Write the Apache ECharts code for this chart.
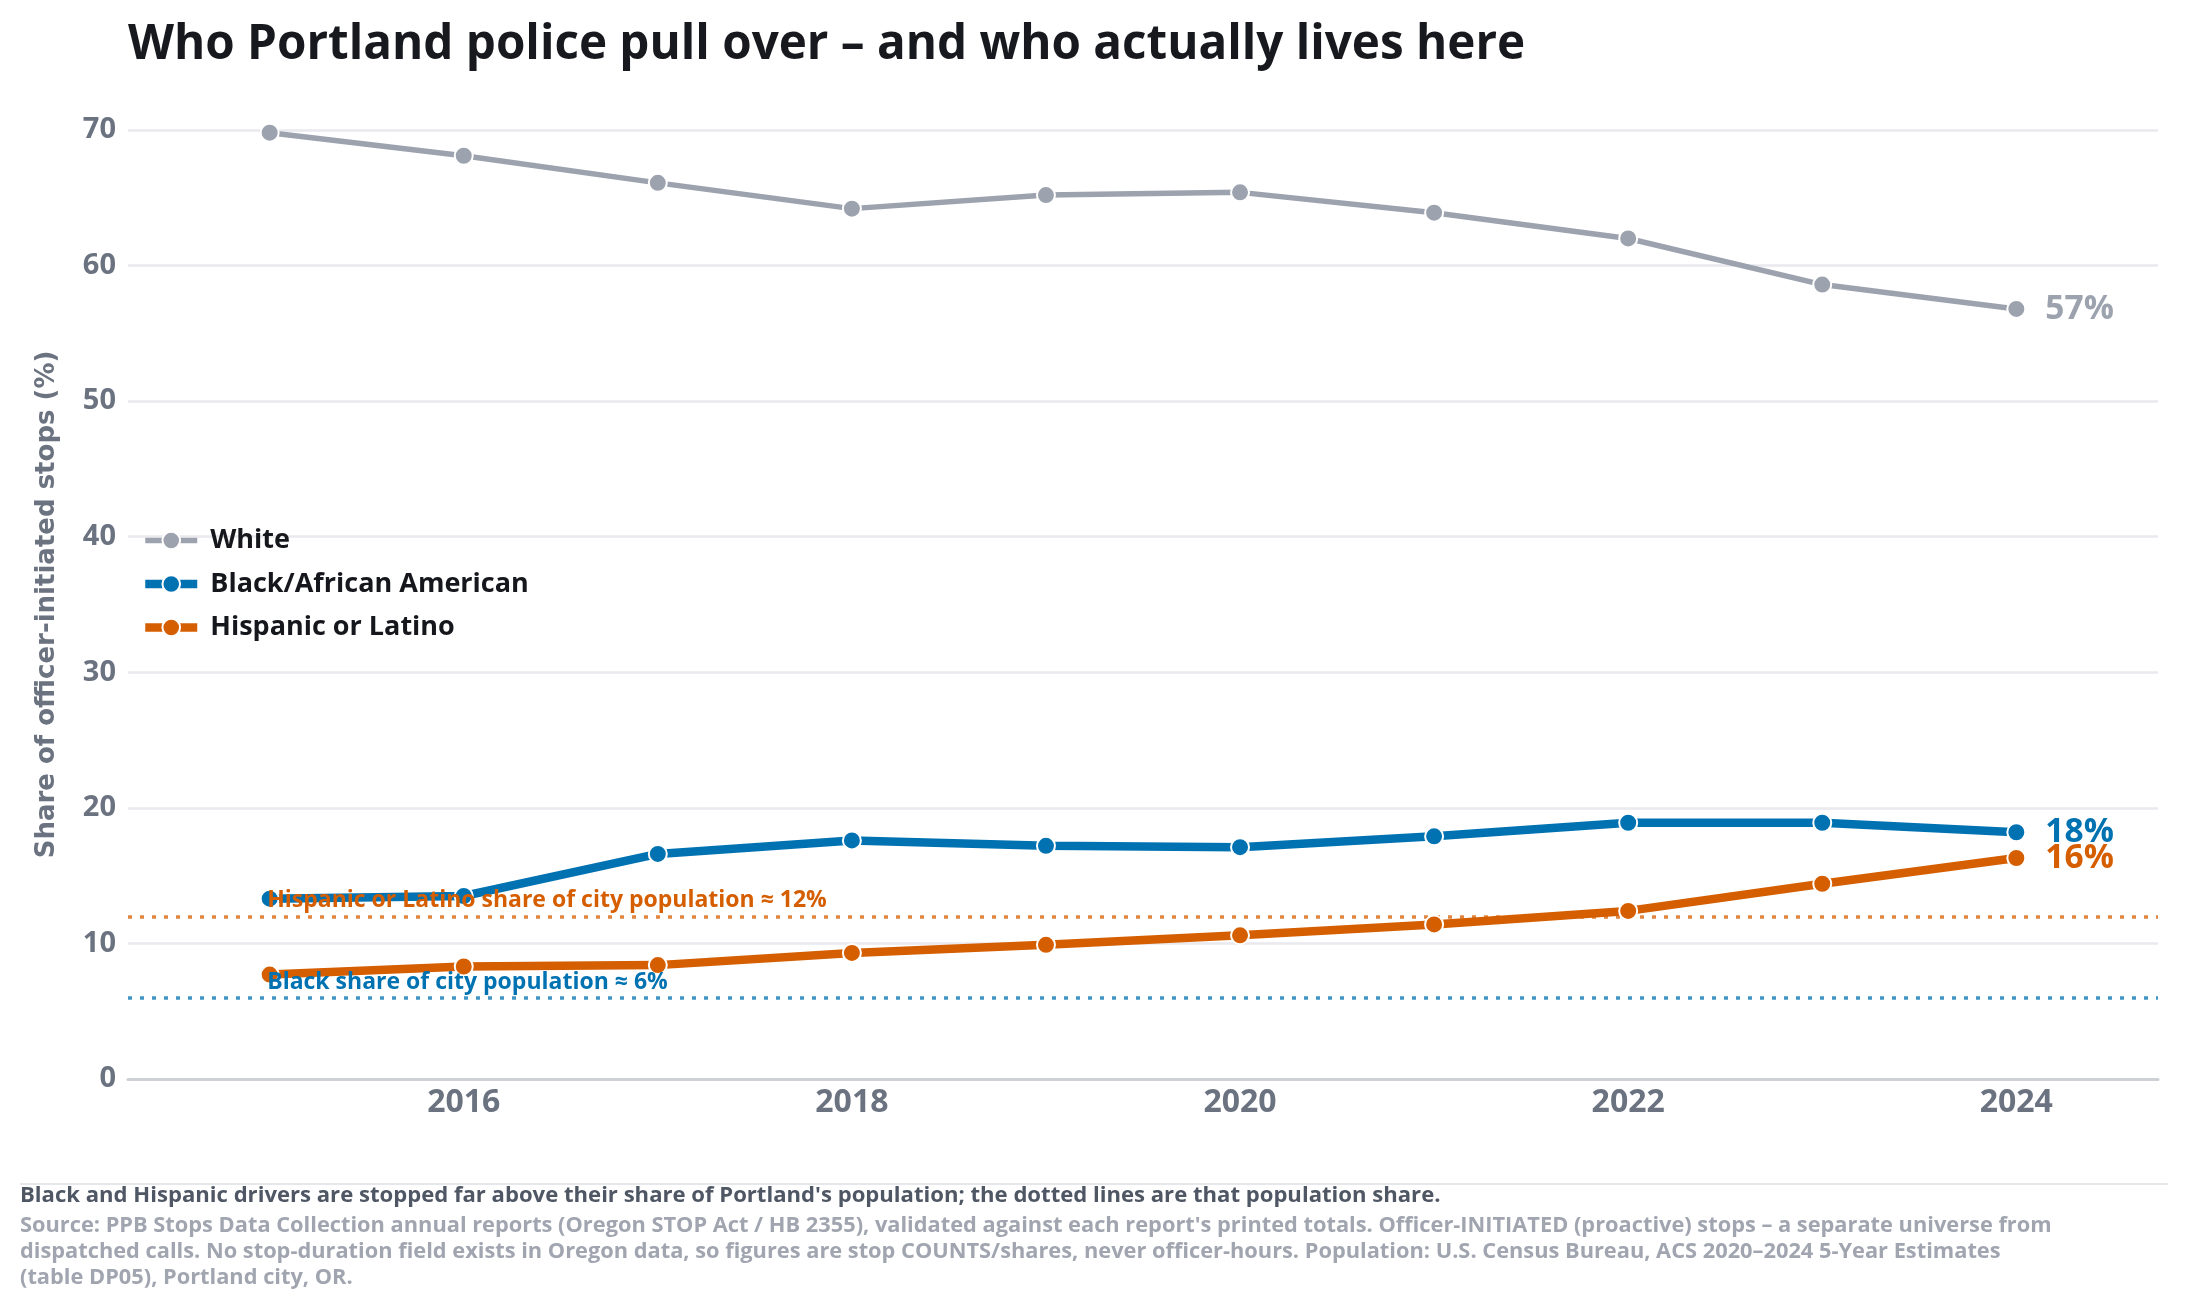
<!DOCTYPE html>
<html>
<head>
<meta charset="utf-8">
<script src="https://cdn.jsdelivr.net/npm/echarts@6/dist/echarts.min.js"></script>
<style>
  html, body { margin: 0; padding: 0; background: #ffffff; }
  #chart { width: 2187px; height: 1307px; }
</style>
</head>
<body>
<div id="chart"></div>
<script>
// ---- Data ----
const years = [2015, 2016, 2017, 2018, 2019, 2020, 2021, 2022, 2023, 2024];
const whiteShare = [69.8, 68.1, 66.1, 64.2, 65.2, 65.4, 63.9, 62.0, 58.6, 56.8];
const blackShare = [13.3, 13.5, 16.6, 17.6, 17.2, 17.1, 17.9, 18.9, 18.9, 18.2];
const hispanicShare = [7.7, 8.3, 8.4, 9.3, 9.9, 10.6, 11.4, 12.4, 14.4, 16.3];
const xTickYears = [2016, 2018, 2020, 2022, 2024];
const yTicks = [0, 10, 20, 30, 40, 50, 60, 70];
const blackPopShare = 6;
const hispanicPopShare = 12;

const seriesNames = ['White', 'Black/African American', 'Hispanic or Latino'];
const colors = { white: '#9ca2ae', black: '#0072b2', hispanic: '#d55e00' };

const FONT = '"Open Sans", Lato, sans-serif';

function zip(xs, ys) { return xs.map((x, i) => [x, ys[i]]); }

function lineSeries(name, values, color, width) {
  return {
    name: name,
    type: 'line',
    data: zip(years, values),
    symbol: 'circle',
    symbolSize: 18,
    showSymbol: true,
    lineStyle: { color: color, width: width },
    itemStyle: { color: color, borderColor: '#ffffff', borderWidth: 2 },
    emphasis: { disabled: true },
    endLabel: {
      show: true,
      formatter: p => Math.round(p.value[1]) + '%',
      color: color,
      fontFamily: FONT,
      fontWeight: 'bold',
      fontSize: 33.5,
      distance: 29
    },
    z: 3
  };
}

const chart = echarts.init(document.getElementById('chart'), null, { renderer: 'canvas' });

const hisp = lineSeries(seriesNames[2], hispanicShare, colors.hispanic, 8.5);
hisp.markLine = {
  silent: true,
  symbol: 'none',
  label: { show: false },
  emphasis: { disabled: true },
  data: [
    { yAxis: hispanicPopShare, lineStyle: { color: colors.hispanic, opacity: 0.75, type: [4, 8], width: 3.5 } },
    { yAxis: blackPopShare, lineStyle: { color: colors.black, opacity: 0.75, type: [4, 8], width: 3.5 } }
  ],
  z: 1
};
hisp.markPoint = {
  silent: true,
  symbol: 'circle',
  symbolSize: 1,
  itemStyle: { color: 'transparent' },
  z: 20,
  data: [
    {
      coord: [years[0], hispanicPopShare],
      label: {
        show: true, position: 'right', distance: 0, offset: [-3, -16],
        formatter: 'Hispanic or Latino share of city population ≈ ' + hispanicPopShare + '%',
        color: colors.hispanic, fontFamily: FONT, fontWeight: 'bold', fontSize: 23
      }
    },
    {
      coord: [years[0], blackPopShare],
      label: {
        show: true, position: 'right', distance: 0, offset: [-3, -15],
        formatter: 'Black share of city population ≈ ' + blackPopShare + '%',
        color: colors.black, fontFamily: FONT, fontWeight: 'bold', fontSize: 23
      }
    }
  ]
};

const option = {
  backgroundColor: '#ffffff',
  animation: false,
  textStyle: { fontFamily: FONT },
  title: [
    {
      text: 'Who Portland police pull over – and who actually lives here',
      left: 128, top: 21, padding: 0,
      textStyle: { fontFamily: FONT, fontWeight: 'bold', fontSize: 47.6, color: '#17191e' }
    },
    {
      text: "Black and Hispanic drivers are stopped far above their share of Portland's population; the dotted lines are that population share.",
      left: 20, top: 1185, padding: 0,
      textStyle: { fontFamily: FONT, fontWeight: 'bold', fontSize: 22.1, color: '#4f5765' }
    },
    {
      text: "Source: PPB Stops Data Collection annual reports (Oregon STOP Act / HB 2355), validated against each report's printed totals. Officer-INITIATED (proactive) stops – a separate universe from\n" +
            "dispatched calls. No stop-duration field exists in Oregon data, so figures are stop COUNTS/shares, never officer-hours. Population: U.S. Census Bureau, ACS 2020–2024 5-Year Estimates\n" +
            "(table DP05), Portland city, OR.",
      left: 20, top: 1213, padding: 0,
      textStyle: { fontFamily: FONT, fontWeight: 'bold', fontSize: 21.8, lineHeight: 26, color: '#a0a5b0' }
    }
  ],
  graphic: [
    {
      type: 'line', silent: true,
      shape: { x1: 20, y1: 1184, x2: 2168, y2: 1184 },
      style: { stroke: '#e6e7eb', lineWidth: 2 }
    }
  ],
  legend: {
    data: seriesNames,
    orient: 'vertical',
    left: 141, top: 527, padding: 0,
    itemWidth: 52, itemHeight: 22, itemGap: 16.5,
    lineStyle: { width: 'inherit' },
    textStyle: { fontFamily: FONT, fontWeight: 'bold', fontSize: 27, color: '#15171c', padding: [0, 0, 0, 8] },
    selectedMode: false
  },
  grid: { left: 128, right: 29, top: 130, bottom: 228, containLabel: false },
  xAxis: {
    type: 'value',
    min: 2014.27, max: 2024.73,
    splitLine: { show: false },
    axisTick: { show: false },
    axisLine: { show: true, lineStyle: { color: '#cdd1d6', width: 3 } },
    axisLabel: {
      customValues: xTickYears,
      formatter: v => String(v),
      color: '#6b7280', fontFamily: FONT, fontWeight: 'bold', fontSize: 32, margin: 8
    }
  },
  yAxis: {
    type: 'value',
    min: 0, max: 70, interval: 10,
    name: 'Share of officer-initiated stops (%)',
    nameLocation: 'middle',
    nameGap: 68,
    nameTextStyle: { fontFamily: '"DejaVu Sans", sans-serif', fontWeight: 'bold', fontSize: 26, color: '#6b7280' },
    axisLine: { show: false },
    axisTick: { show: false },
    splitLine: { show: true, lineStyle: { color: '#e9e9ee', width: 2.5 } },
    axisLabel: {
      customValues: yTicks,
      color: '#6b7280', fontFamily: FONT, fontWeight: 'bold', fontSize: 29, margin: 12
    }
  },
  series: [
    lineSeries(seriesNames[0], whiteShare, colors.white, 5.5),
    lineSeries(seriesNames[1], blackShare, colors.black, 8.5),
    hisp
  ]
};

chart.setOption(option);
</script>
</body>
</html>
